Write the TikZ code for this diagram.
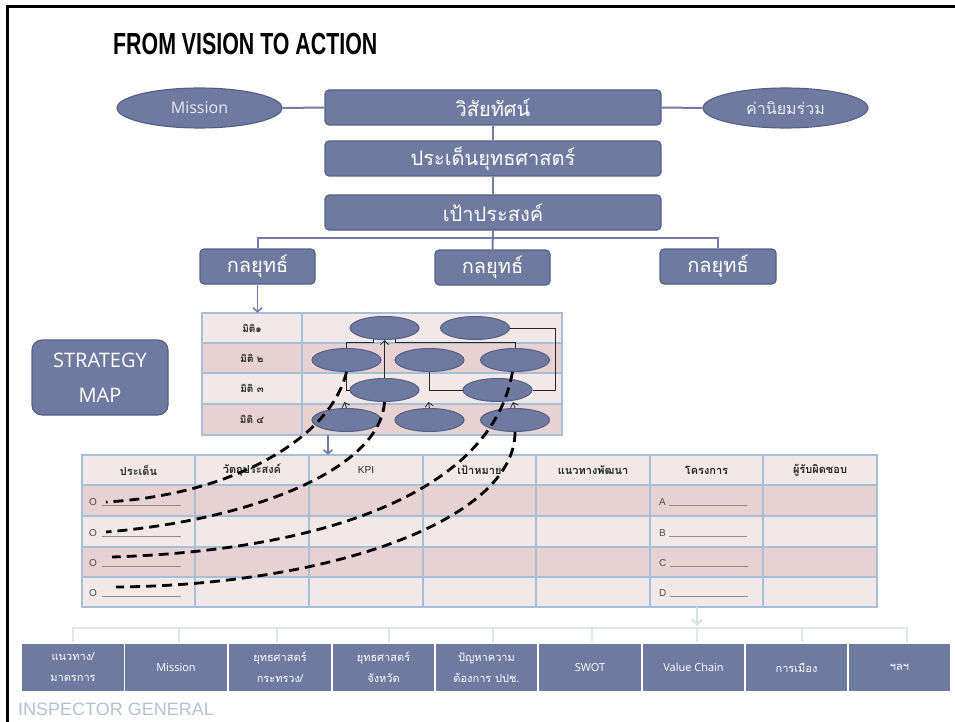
\documentclass[tikz,border=0pt]{standalone}
\usepackage{fontspec}
\setmainfont{Open Sans}
\newfontfamily\thai[Script=Thai]{Loma}
\newfontfamily\titlefont[FakeStretch=0.7]{Liberation Sans}
\newfontfamily\arialf{Liberation Sans}
\usetikzlibrary{shapes.geometric,arrows.meta,calc}
\definecolor{boxc}{RGB}{111,122,160}
\definecolor{bordc}{RGB}{84,94,134}
\definecolor{linec}{RGB}{112,124,166}
\definecolor{rowlight}{RGB}{243,232,232}
\definecolor{rowdark}{RGB}{232,209,209}
\definecolor{gridc}{RGB}{166,190,214}
\definecolor{paleblue}{RGB}{208,226,234}
\definecolor{brkc}{RGB}{220,232,238}
\definecolor{igc}{RGB}{178,194,214}
\begin{document}
\begin{tikzpicture}[x=1pt,y=-1pt,
  mbox/.style={draw=bordc,line width=1.1pt,fill=boxc,rounded corners=4pt,text=white,inner sep=0pt,font=\thai\fontsize{20}{24}\selectfont},
  mell/.style={ellipse,draw=bordc,line width=1.1pt,fill=boxc,text=white!85!boxc,minimum width=165pt,minimum height=40pt,inner sep=0pt},
  hl/.style={draw=linec,line width=2pt},
  barb/.style={-{Straight Barb[length=4pt,width=9pt,line width=1.6pt]}},
  sme/.style={ellipse,draw=bordc,line width=1pt,fill=boxc,minimum width=69pt,minimum height=23pt,inner sep=0pt},
  thinl/.style={draw=black!85,line width=0.8pt},
  opentip/.style={-{Straight Barb[length=4pt,width=8pt,line width=0.8pt]}},
  dsh/.style={draw=black,line width=2.8pt,dash pattern=on 10pt off 6pt},
  smlab/.style={font=\thai\bfseries\fontsize{10}{12}\selectfont,text=black!85,inner sep=0pt},
  hdr/.style={font=\thai\bfseries\fontsize{11}{13}\selectfont,text=black!85,inner sep=0pt},
  cell/.style={font=\arialf\fontsize{10}{12}\selectfont,text=black!70,inner sep=0pt,anchor=base west},
  ul/.style={draw=black!45,line width=0.7pt},
  bbx/.style={draw=white,line width=1.2pt,fill=boxc,text=white,minimum width=103pt,minimum height=49pt,inner sep=0pt,align=center,font=\fontsize{11}{21}\selectfont},
  bbt/.style={bbx,font=\thai\fontsize{11}{21}\selectfont},
]
\useasboundingbox (0,0) rectangle (955,722);
\fill[white] (0,0) rectangle (955,722);
% frame
\draw[line width=3pt] (7.5,722) -- (7.5,6.5) -- (955,6.5);

% title
\node[anchor=base west,inner sep=0pt,font=\titlefont\bfseries\fontsize{30.5}{36}\selectfont] (title) at (113,55) {FROM VISION TO ACTION};

% hierarchy
\node[mbox,minimum width=336pt,minimum height=35pt] (vis) at (493,107.5) {วิสัยทัศน์};
\node[mbox,minimum width=336pt,minimum height=35pt] (iss) at (493,158.5) {ประเด็นยุทธศาสตร์};
\node[mbox,minimum width=336pt,minimum height=35pt] (goal) at (493,212.5) {เป้าประสงค์};
\node[mell,font=\fontsize{16}{19}\selectfont] (mis) at (199.5,108) {Mission};
\node[mell,font=\thai\fontsize{16}{19}\selectfont] (val) at (785.5,108) {ค่านิยมร่วม};
\node[mbox,minimum width=115pt,minimum height=35pt] (s1) at (257.5,266.5) {กลยุทธ์};
\node[mbox,minimum width=115pt,minimum height=35pt] (s2) at (492.5,267.5) {กลยุทธ์};
\node[mbox,minimum width=116pt,minimum height=35pt] (s3) at (718,266.5) {กลยุทธ์};
\coordinate (bus) at (493,238);
\draw[hl] (mis.east) -- (vis.west);
\draw[hl] (vis.east) -- (val.west);
\draw[hl] (vis.south) -- (iss.north);
\draw[hl] (iss.south) -- (goal.north);
\draw[hl] (goal.south) -- (s2.north);
\draw[hl] (s1.north) |- (bus) -| (s3.north);

% strategy map box
\node[draw=bordc,line width=1.1pt,fill=boxc,rounded corners=10pt,minimum width=136pt,minimum height=75pt,inner sep=0pt,text=white,align=center,font=\fontsize{20}{35}\selectfont] (smbox) at (100,377.5) {STRATEGY\\MAP};

% strategy map table
\node[minimum width=360pt,minimum height=122pt,inner sep=0pt] (smap) at (382,374) {};
\fill[rowlight] (202,313) rectangle (562,343);
\fill[rowdark] (202,343) rectangle (562,373);
\fill[rowlight] (202,373) rectangle (562,404);
\fill[rowdark] (202,404) rectangle (562,435);
\draw[gridc,line width=1.2pt] (202,313) rectangle (562,435);
\foreach \yy in {343,373,404} \draw[gridc,line width=1.2pt] (202,\yy) -- (562,\yy);
\draw[gridc,line width=1.2pt] (302,313) -- (302,435);
\node[smlab] (m1) at (252,328) {มิติ๑};
\node[smlab] (m2) at (252,358) {มิติ ๒};
\node[smlab] (m3) at (252,388.5) {มิติ ๓};
\node[smlab] (m4) at (252,419.5) {มิติ ๔};

\draw[draw=linec,line width=1.8pt,barb] (s1.south) -- (s1.south |- smap.north);

\node[sme] (e11) at (384.5,328) {};
\node[sme] (e12) at (475,328) {};
\node[sme] (e21) at (346.5,360) {};
\node[sme] (e22) at (429.5,360) {};
\node[sme] (e23) at (515,360) {};
\node[sme] (e31) at (384.5,390) {};
\node[sme] (e32) at (497.5,390) {};
\node[sme] (e41) at (346.5,420) {};
\node[sme] (e42) at (429.5,420) {};
\node[sme] (e43) at (515,420) {};
\coordinate (bus1) at (0,342);
\coordinate (rgt) at (555,0);
\draw[thinl] (e11.227) |- (e21.north |- bus1) -- (e21.north);
\draw[thinl] (e11.313) |- (e23.north |- bus1) -- (e23.north);
\draw[thinl,opentip] (e31.north) -- (e11.south);
\draw[thinl] (e12.east) -| (rgt |- e32.east) -- (e32.east);
\draw[thinl] (e22.south) |- (e32.west);
\draw[thinl] (e21.south) |- (e31.west);
\draw[thinl,opentip] (e41.north) -- ++(-2,-6);
\draw[thinl,opentip] (e42.north) -- ++(-1,-6);
\draw[thinl,opentip] (e43.north) -- ++(-2,-6);

% lower table
\node[minimum width=795pt,minimum height=152pt,inner sep=0pt] (ltab) at (479.5,531) {};
\fill[rowlight] (82,455) rectangle (877,485);
\fill[rowdark] (82,485) rectangle (877,516);
\fill[rowlight] (82,516) rectangle (877,547);
\fill[rowdark] (82,547) rectangle (877,577);
\fill[rowlight] (82,577) rectangle (877,607);
\draw[gridc,line width=1.2pt] (82,455) rectangle (877,607);
\foreach \yy in {485,516,547,577} \draw[gridc,line width=1.2pt] (82,\yy) -- (877,\yy);
\foreach \xx in {195,309,423,536,650,763} \draw[gridc,line width=1.2pt] (\xx,455) -- (\xx,607);
\node[hdr] (h1) at (138.5,470) {ประเด็น};
\node[hdr] (h2) at (252,470) {วัตถุประสงค์};
\node[cell,anchor=center,text=black!85] (h3) at (366,470) {KPI};
\node[hdr] (h4) at (479.5,470) {เป้าหมาย};
\node[hdr] (h5) at (593,470) {แนวทางพัฒนา};
\node[hdr] (h6) at (706.5,470) {โครงการ};
\node[hdr] (h7) at (820,470) {ผู้รับผิดชอบ};

\node[cell] (o1) at (89,505) {O};
\node[cell] (o2) at (89,536) {O};
\node[cell] (o3) at (89,566) {O};
\node[cell] (o4) at (89,596) {O};
\foreach \n in {1,2,3,4} \draw[ul] ($(o\n.base east)+(5,0)$) -- ++(79,0);
\node[cell] (pa) at (659,505) {A};
\node[cell] (pb) at (659,536) {B};
\node[cell] (pc) at (659,566) {C};
\node[cell] (pd) at (659,596) {D};
\foreach \n in {a,b,c,d} \draw[ul] ($(p\n.base east)+(3,0)$) -- ++(78,0);

\draw[draw=linec,line width=1.8pt,barb] (smap.south -| 328,0) -- (ltab.north -| 328,0);

% dashed links
\coordinate (d1) at (106,502);
\coordinate (d2) at (106,532);
\coordinate (d3) at (112,557);
\coordinate (d4) at (116,587);
\draw[dsh] (e21.south) .. controls (330,440) and (230,495) .. (d1);
\draw[dsh] (e31.south) .. controls (380,470) and (250,520) .. (d2);
\draw[dsh] (e23.258) .. controls (492,490) and (330,550) .. (d3);
\draw[dsh] (e43.south) .. controls (515,520) and (330,585) .. (d4);

% bottom boxes
\node[bbt] (b1) at (73,667.5) {แนวทาง/\\มาตรการ};
\node[bbx] (b2) at (176,667.5) {Mission};
\node[bbt] (b3) at (280,667.5) {ยุทธศาสตร์\\กระทรวง/};
\node[bbt] (b4) at (383.5,667.5) {ยุทธศาสตร์\\จังหวัด};
\node[bbt] (b5) at (486.5,667.5) {ปัญหาความ\\ต้องการ ปปช.};
\node[bbx] (b6) at (590,667.5) {SWOT};
\node[bbx] (b7) at (693.5,667.5) {Value Chain};
\node[bbt] (b8) at (796.5,667.5) {การเมือง};
\node[bbt] (b9) at (899.5,667.5) {ฯลฯ};

\coordinate (brk) at (0,628);
\coordinate (brkL) at (73,628);
\coordinate (brkR) at (907,628);
\draw[brkc,line width=1.6pt] (b1.north) -- (brkL) -- (brkR) -- (b9.north -| brkR);
\foreach \n/\xx in {2/179,3/277,4/389,5/493,6/592,7/697,8/802}
  \draw[brkc,line width=1.6pt] (b\n.north -| \xx,0) -- (brk -| \xx,0);
\draw[draw=paleblue,line width=2.2pt,-{Straight Barb[length=5pt,width=10pt,line width=2pt]}] (ltab.south -| 697,0) -- (697,626);

% footer
\node[anchor=base west,inner sep=0pt,font=\arialf\fontsize{18}{20}\selectfont,text=igc] (ig) at (18,715) {INSPECTOR GENERAL};
\end{tikzpicture}
\end{document}
